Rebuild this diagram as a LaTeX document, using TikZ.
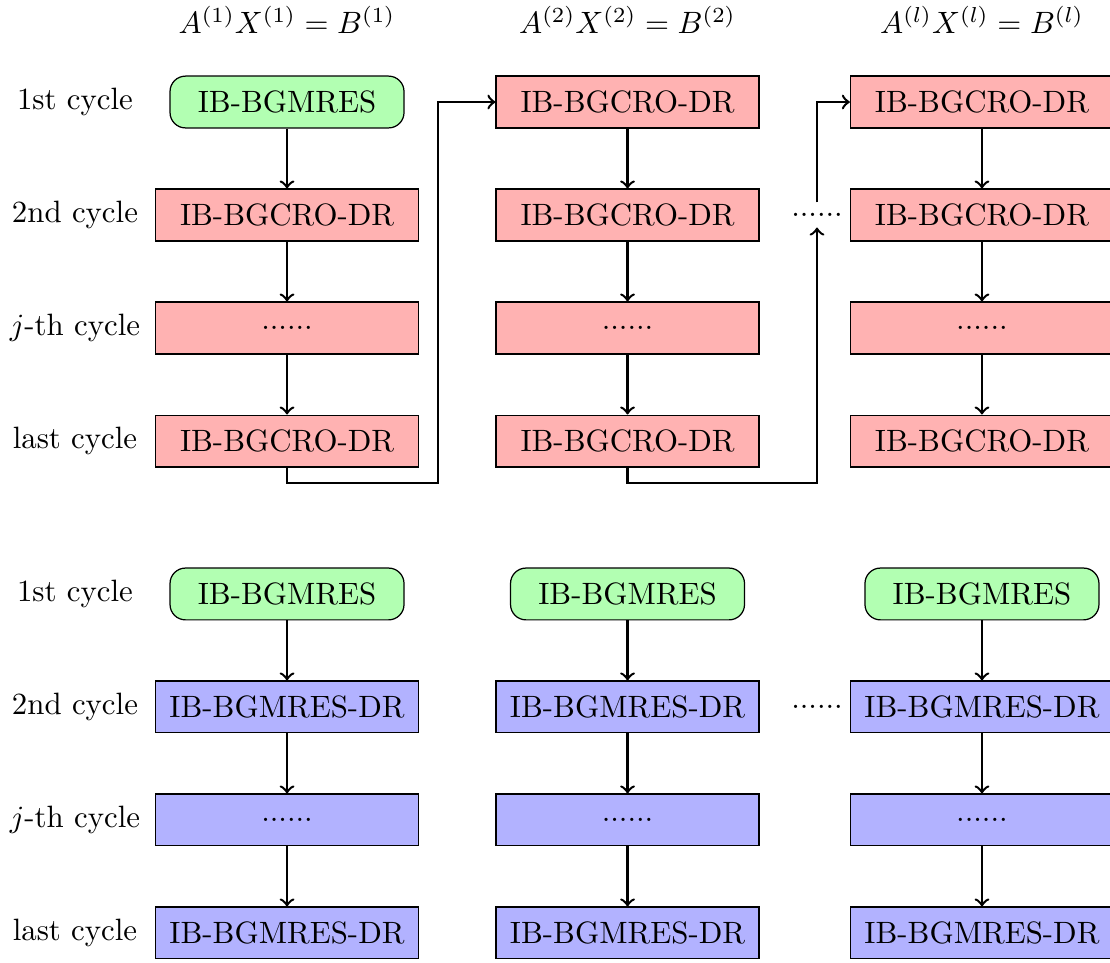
\documentclass[tikz,border=0pt]{standalone}
\usepackage{amsmath}
\usepackage{tikz}

\begin{document}
\begin{tikzpicture}[
        startbox/.style={draw, rounded corners=5pt, fill=green!30, minimum width=2.665cm, minimum height=0.59cm},
        crobox/.style={draw, fill=red!30, minimum width=2.995cm, minimum height=0.59cm},
        gmrbox/.style={draw, fill=blue!30, minimum width=2.995cm, minimum height=0.59cm},
        conn/.style={->, thick}
    ]
        \useasboundingbox (0,0) rectangle (12.642,-10.968);

        \node at (3.269,-0.228) {$A^{(1)}X^{(1)}=B^{(1)}$};
        \node at (7.147,-0.228) {$A^{(2)}X^{(2)}=B^{(2)}$};
        \node at (11.184,-0.228) {$A^{(l)}X^{(l)}=B^{(l)}$};

        \node (l1) at (0.854,-1.162) {1st cycle};
        \node (l2) at (0.854,-2.449) {2nd cycle};
        \node (l3) at (0.854,-3.736) {$j$-th cycle};
        \node (l4) at (0.854,-5.023) {last cycle};

        \node[startbox] (a1) at (3.269,-1.162) {IB-BGMRES};
        \node[crobox] (a2) at (3.269,-2.449) {IB-BGCRO-DR};
        \node[crobox] (a3) at (3.269,-3.736) {......};
        \node[crobox] (a4) at (3.269,-5.023) {IB-BGCRO-DR};

        \node[crobox] (b1) at (7.147,-1.162) {IB-BGCRO-DR};
        \node[crobox] (b2) at (7.147,-2.449) {IB-BGCRO-DR};
        \node[crobox] (b3) at (7.147,-3.736) {......};
        \node[crobox] (b4) at (7.147,-5.023) {IB-BGCRO-DR};

        \node[crobox] (c1) at (11.184,-1.162) {IB-BGCRO-DR};
        \node[crobox] (c2) at (11.184,-2.449) {IB-BGCRO-DR};
        \node[crobox] (c3) at (11.184,-3.736) {......};
        \node[crobox] (c4) at (11.184,-5.023) {IB-BGCRO-DR};

        \node (dotsT) at (9.305,-2.449) {......};

        \coordinate (k1) at (4.989,-5.501);
        \coordinate (k2) at (9.305,-5.501);

        \draw[conn] (a1) -- (a2);
        \draw[conn] (a2) -- (a3);
        \draw[conn] (a3) -- (a4);
        \draw[conn] (b1) -- (b2);
        \draw[conn] (b2) -- (b3);
        \draw[conn] (b3) -- (b4);
        \draw[conn] (c1) -- (c2);
        \draw[conn] (c2) -- (c3);
        \draw[conn] (c3) -- (c4);

        \draw[conn] (a4.south) |- (k1) |- (b1.west);
        \draw[conn] (b4.south) |- (k2) -- (dotsT.south);
        \draw[conn] (dotsT.north) |- (c1.west);

        \node (m1) at (0.854,-6.765) {1st cycle};
        \node (m2) at (0.854,-8.052) {2nd cycle};
        \node (m3) at (0.854,-9.339) {$j$-th cycle};
        \node (m4) at (0.854,-10.626) {last cycle};

        \node[startbox] (d1) at (3.269,-6.765) {IB-BGMRES};
        \node[gmrbox] (d2) at (3.269,-8.052) {IB-BGMRES-DR};
        \node[gmrbox] (d3) at (3.269,-9.339) {......};
        \node[gmrbox] (d4) at (3.269,-10.626) {IB-BGMRES-DR};

        \node[startbox] (e1) at (7.147,-6.765) {IB-BGMRES};
        \node[gmrbox] (e2) at (7.147,-8.052) {IB-BGMRES-DR};
        \node[gmrbox] (e3) at (7.147,-9.339) {......};
        \node[gmrbox] (e4) at (7.147,-10.626) {IB-BGMRES-DR};

        \node[startbox] (f1) at (11.184,-6.765) {IB-BGMRES};
        \node[gmrbox] (f2) at (11.184,-8.052) {IB-BGMRES-DR};
        \node[gmrbox] (f3) at (11.184,-9.339) {......};
        \node[gmrbox] (f4) at (11.184,-10.626) {IB-BGMRES-DR};

        \node (dotsB) at (9.305,-8.052) {......};

        \draw[conn] (d1) -- (d2);
        \draw[conn] (d2) -- (d3);
        \draw[conn] (d3) -- (d4);
        \draw[conn] (e1) -- (e2);
        \draw[conn] (e2) -- (e3);
        \draw[conn] (e3) -- (e4);
        \draw[conn] (f1) -- (f2);
        \draw[conn] (f2) -- (f3);
        \draw[conn] (f3) -- (f4);
    \end{tikzpicture}
\end{document}
